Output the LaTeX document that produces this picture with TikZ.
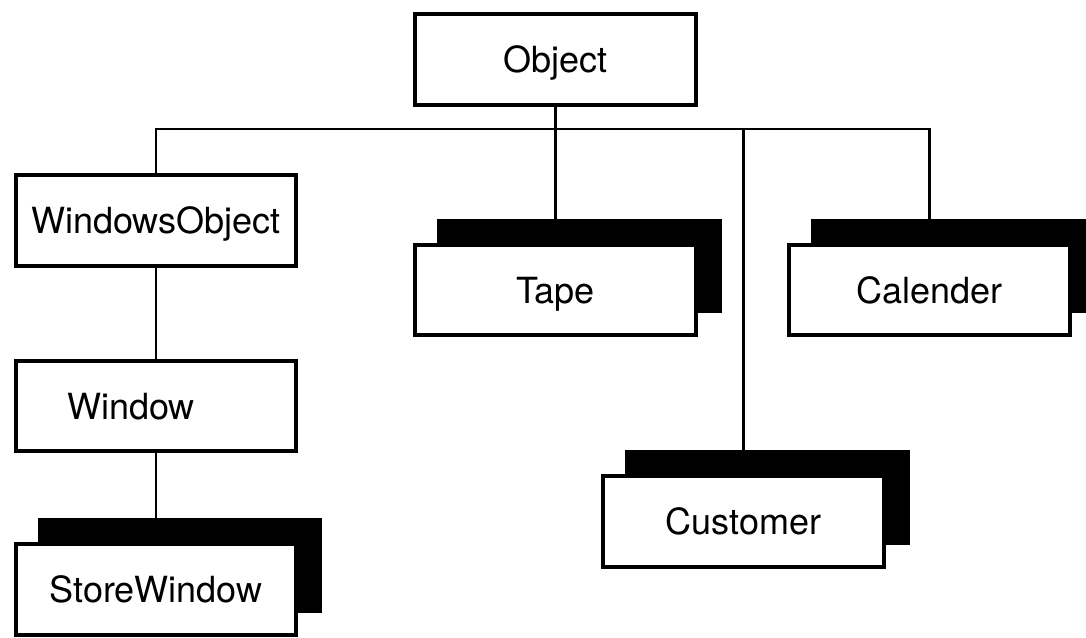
\documentclass[tikz,border=0pt]{standalone}
\usepackage{fontspec}
\setmainfont{TeX Gyre Heros}
\usetikzlibrary{shadows}

\begin{document}
\begin{tikzpicture}[x=0.02cm,y=-0.02cm,
    cls/.style={draw, line width=0.08cm, fill=white, minimum width=5.62cm,
      minimum height=1.82cm, text depth=0pt, font=\fontsize{20.5}{24}\selectfont},
    shcls/.style={cls, general shadow={fill=black, draw=black,
      shadow xshift=0.48cm, shadow yshift=0.48cm}},
    link/.style={line width=0.05cm}]

      \useasboundingbox (0,0) rectangle (1086,638);

      \node[cls]   (obj)      at (555.5,59.5) {Object};
      \node[cls]   (winobj)   at (156,220.5)  {WindowsObject};
      \node[cls]   (win)      at (156,406)    {Window\hspace*{1cm}};
      \node[shcls] (storewin) at (156,589.5)  {StoreWindow};
      \node[shcls] (tape)     at (555.5,290)  {Tape};
      \node[shcls] (cal)      at (929.5,290)  {Calender};
      \node[shcls] (cust)     at (743.5,521.5) {Customer};

      \coordinate (bus) at (0,129);

      \draw[link] (obj.south) -- ([yshift=0.48cm]tape.north);
      \draw[link] (winobj.north) -- (winobj.north |- bus) -- (cal.north |- bus)
        -- ([yshift=0.48cm]cal.north);
      \draw[link] (cust.north |- bus) -- ([yshift=0.48cm]cust.north);
      \draw[link] (winobj.south) -- (win.north);
      \draw[link] (win.south) -- ([yshift=0.48cm]storewin.north);

    \end{tikzpicture}
\end{document}
